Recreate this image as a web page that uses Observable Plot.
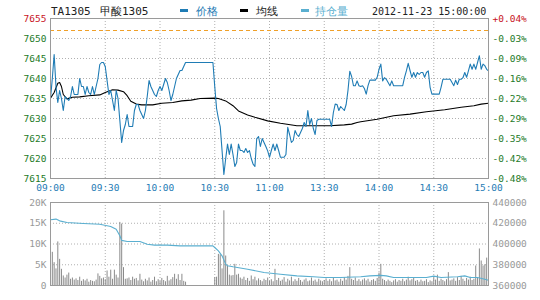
<!DOCTYPE html>
<html><head><meta charset="utf-8">
<script src="https://cdn.jsdelivr.net/npm/d3@7"></script>
<script src="https://cdn.jsdelivr.net/npm/@observablehq/plot@0.6"></script>
<style>
body{margin:0;background:#fff;}
#wrap{position:relative;width:540px;height:300px;overflow:hidden;font-family:"DejaVu Sans Mono",monospace;}
#wrap svg{display:block;}
.hd{position:absolute;top:5px;font-size:11px;line-height:13px;white-space:nowrap;z-index:2;}
.mk{position:absolute;top:9px;width:8px;height:3px;z-index:2;}
</style></head><body><div id="wrap"></div>
<script>
const timeTicks = [0, 30, 60, 90, 120, 150, 180, 210, 240];
const timeLabels = ["09:00","09:30","10:00","10:30","11:00","13:30","14:00","14:30","15:00"];
const prevSettle = 7652;
const priceTicks = [7615, 7620, 7625, 7630, 7635, 7640, 7645, 7650, 7655];
const volTicks = [0, 5000, 10000, 15000, 20000];
const volTickLabels = ["0", "5K", "10K", "15K", "20K"];
const oiTicks = [360000, 380000, 400000, 420000, 440000];

// price, one value per minute slot (0..240)
const priceValues = [
 7635,7640,7646,7638,7634,7637,7635,7632,7635.5,7635,
 7634.5,7635.5,7638,7636,7636,7636,7640,7638,7638,7636,
 7638,7636.5,7636,7638,7636,7638,7640,7643.5,7644,7644,
 7643,7639.5,7636,7637,7634.5,7632,7637,7635,7629.5,7624,
 7627,7628.5,7631,7628,7628,7628,7632,7633.5,7633.5,7632,
 7631,7630,7632,7635.5,7639.5,7638,7637,7636,7635.5,7637,
 7638,7637,7638.5,7640,7639,7637,7634.5,7636,7638,7640,
 7641,7642,7642,7643,7644,7644,7644,7644,7644,7644,
 7644,7644,7644,7644,7644,7644,7644,7644,7644,7644,
 7638,7632.5,7630,7628,7622,7616,7620,7623.6,7621,7623.6,
 7621,7618,7619,7623.6,7622,7622,7621.5,7622.5,7621.5,7622,
 7620,7618.6,7618,7625,7625.5,7623,7625,7624,7623,7621.9,
 7620.3,7622,7623.6,7622,7623.6,7622,7620.3,7620.3,7620.3,7621,
 7627.8,7626,7624,7624.5,7627,7626,7625.5,7626.5,7627.5,7629,
 7628,7632,7628.5,7630,7627.5,7626,7629.5,7629.8,7629.8,7629.8,
 7629.8,7629.8,7629.8,7629.8,7628,7631.5,7633.6,7633.5,7632,7633,
 7632.5,7632,7633.5,7637,7641.8,7640.5,7638.2,7638.2,7639.4,7638.2,
 7638,7638.2,7637.5,7636.1,7638.2,7639.6,7639.6,7639.6,7639.6,7640.3,
 7642.3,7643.6,7639.4,7640.2,7639.8,7639,7638.2,7639.4,7638.2,7638.2,
 7638.2,7638.2,7638.2,7638.2,7640.3,7641.9,7643.8,7642,7640.3,7641.5,
 7640.3,7641.5,7641,7641.5,7641.5,7640.3,7641.5,7641.9,7637.8,7636.1,
 7636.1,7636.1,7636.1,7636.1,7637.8,7639.8,7639.8,7639.8,7639.8,7639.8,
 7639,7638.2,7639.6,7638.5,7639.8,7639.8,7640.2,7641.5,7640.3,7641.9,
 7643.6,7642.3,7643.6,7642.3,7644,7645.7,7642.3,7643.6,7643.2,7642.3,
 7641.9
];

// average price line (minute slot, value)
const avgMinutes = [0,2,4,5,6,7,9,12,16,21,27,30,34,37,40,42,44,47,50,56,61,67,72,77,82,90,92,96,100,103,108,112,119,126,135,144,153,161,165,168,170,179,188,197,206,216,225,232,236,240];
const avgValues  = [7635.1,7636.5,7638.8,7639,7638,7636,7634.9,7635.3,7635.4,7635.7,7635.9,7636.5,7637.2,7637.1,7636.7,7635.7,7634.3,7633.6,7633.4,7633.4,7633.8,7634,7634.4,7634.6,7635,7635.1,7635,7634.4,7633.2,7631.9,7630.9,7630.3,7629.4,7628.8,7628.2,7628.2,7628.2,7628.4,7628.6,7629,7629.2,7629.8,7630.7,7631.1,7631.7,7632.2,7632.8,7633.2,7633.6,7633.8];

// open interest (minute slot, value)
const oiMinutes = [0,3,5,9,18,27,33,36,38,39,42,49,53,57,64,71,89,90,92,94,96,97,100,108,117,126,135,144,150,159,170,175,181,184,188,197,206,210,214,223,227,230,234,238,240];
const oiValues  = [423300,424000,422300,420700,419800,419100,416900,414300,408000,403500,402400,402400,399800,398900,398900,398200,398200,396600,393400,388600,380600,379000,378000,375700,372500,370900,369300,368400,367700,367700,368400,369300,369800,369300,367700,367700,367700,369000,367700,368400,369300,367700,367700,366100,365100];

// volume per minute slot (0..240)
const volumes = [
 10400,8000,5500,4000,10500,6300,3900,2300,1800,2500,
 3000,1500,1800,1300,1600,1200,2000,1000,1400,1100,
 1500,800,1200,1000,900,1300,2800,2200,1600,1800,
 1400,3500,2000,3700,1500,3700,2500,1800,15200,14800,
 4300,1500,1600,1800,1200,2000,1500,1700,1100,2700,
 1300,900,1500,1100,1800,800,1200,2000,900,1400,
 1000,1700,1200,900,2200,1100,1400,1900,2700,1500,
 2600,1200,2700,1000,800,0,0,0,0,0,
 0,0,0,0,0,0,0,0,0,0,
 1900,2000,7500,7400,4000,18000,7100,4700,2500,2300,
 2400,5100,2500,2700,1800,1500,2000,1200,1700,1000,
 2300,1400,2000,1100,1600,1200,900,1500,1200,1800,
 1000,1400,900,3900,1200,1700,1000,1300,1900,800,
 1500,1100,2000,900,1400,1000,1700,1200,800,1300,
 1600,900,1100,1800,1000,1300,800,1500,1100,900,
 1200,1600,1000,1400,900,1700,1100,1300,800,1500,
 1000,1900,1300,2200,4300,1500,1200,1800,1000,1400,
 900,1300,1600,1100,1500,800,1200,1400,1000,1700,
 3000,5100,1500,1200,900,1300,1000,700,1100,1400,
 800,1200,1000,1500,900,1300,2000,1100,1400,1700,
 1000,1200,800,1300,900,1000,1400,700,1100,900,
 1800,1300,2500,1000,1500,1200,900,1400,3100,1100,
 1300,1600,1000,1900,1200,2200,1500,1000,1700,1300,
 2000,1200,1500,4700,1800,8800,5900,4700,5000,6600,
 2500
];

const priceData = priceValues.map((v, t) => ({t, v}));
const avgData = avgMinutes.map((t, i) => ({t, v: avgValues[i]}));
const oiData = oiMinutes.map((t, i) => ({t, v: oiValues[i]}));
const volData = volumes.map((v, t) => ({t, v}));

const pct = v => { const r = (v / prevSettle - 1) * 100; return (r >= 0 ? "+" : "") + r.toFixed(2) + "%"; };
const upDown = v => v > prevSettle ? "#c8141e" : "#1e7a28";
const gridStyle = {stroke: "#b0b0b0", strokeDasharray: "1,2"};
const font = {fontFamily: "DejaVu Sans Mono, monospace", fontSize: "9.5px", background: "transparent", overflow: "visible"};

const topPlot = Plot.plot({
  width: 540, height: 196,
  marginLeft: 50, marginRight: 52, marginTop: 18, marginBottom: 18,
  x: {domain: [0, 240], axis: null},
  y: {domain: [7615, 7655], axis: null},
  color: {type: "identity"},
  style: font,
  marks: [
    Plot.ruleY(priceTicks.slice(1, -1), gridStyle),
    Plot.ruleX(timeTicks.slice(1, -1), gridStyle),
    Plot.ruleY([prevSettle], {stroke: "#f0a028", strokeDasharray: "4,3"}),
    Plot.line(avgData, {x: "t", y: "v", stroke: "#000", strokeWidth: 1.1}),
    Plot.line(priceData, {x: "t", y: "v", stroke: "#1f7cb5", strokeWidth: 1.1}),
    Plot.frame({stroke: "#9a9a9a"}),
    Plot.text(priceTicks, {y: d => d, text: d => String(d), frameAnchor: "left", textAnchor: "end", dx: -4, fill: upDown}),
    Plot.text(priceTicks, {y: d => d, text: pct, frameAnchor: "right", textAnchor: "start", dx: 4, fill: upDown}),
    Plot.text(timeTicks, {x: d => d, text: (d, i) => timeLabels[i], frameAnchor: "bottom", dy: 12, fill: "#1f7cb5"})
  ]
});

const bottomPlot = Plot.plot({
  width: 540, height: 104,
  marginLeft: 50, marginRight: 52, marginTop: 6, marginBottom: 15,
  x: {domain: [0, 240], axis: null},
  y: {domain: [0, 20000], axis: null},
  style: font,
  marks: [
    Plot.ruleY(volTicks.slice(1, -1), gridStyle),
    Plot.ruleX(timeTicks.slice(1, -1), gridStyle),
    Plot.ruleX(volData, {x: "t", y1: 0, y2: "v", stroke: "#8a8a8a"}),
    Plot.line(oiData, {x: "t", y: d => (d.v - 360000) / 4, stroke: "#5aafd0", strokeWidth: 1.1}),
    Plot.frame({stroke: "#9a9a9a"}),
    Plot.text(volTicks, {y: d => d, text: (d, i) => volTickLabels[i], frameAnchor: "left", textAnchor: "end", dx: -4, fill: "#999"}),
    Plot.text(oiTicks, {y: d => (d - 360000) / 4, text: d => String(d), frameAnchor: "right", textAnchor: "start", dx: 4, fill: "#999"})
  ]
});

const wrap = document.getElementById("wrap");
wrap.innerHTML = `
<span class="hd" style="left:51px;color:#222">TA1305</span>
<span class="hd" style="left:100px;color:#222">甲酸1305</span>
<span class="mk" style="left:180px;background:#1f7cb5"></span>
<span class="hd" style="left:196px;color:#1f7cb5">价格</span>
<span class="mk" style="left:240px;background:#000"></span>
<span class="hd" style="left:256px;color:#222">均线</span>
<span class="mk" style="left:301px;background:#5aafd0"></span>
<span class="hd" style="left:315px;color:#5aafd0">持仓量</span>
<span class="hd" style="left:372px;color:#222;font-size:10px">2012-11-23 15:00:00</span>`;
wrap.appendChild(topPlot);
wrap.appendChild(bottomPlot);
</script>
</body></html>
